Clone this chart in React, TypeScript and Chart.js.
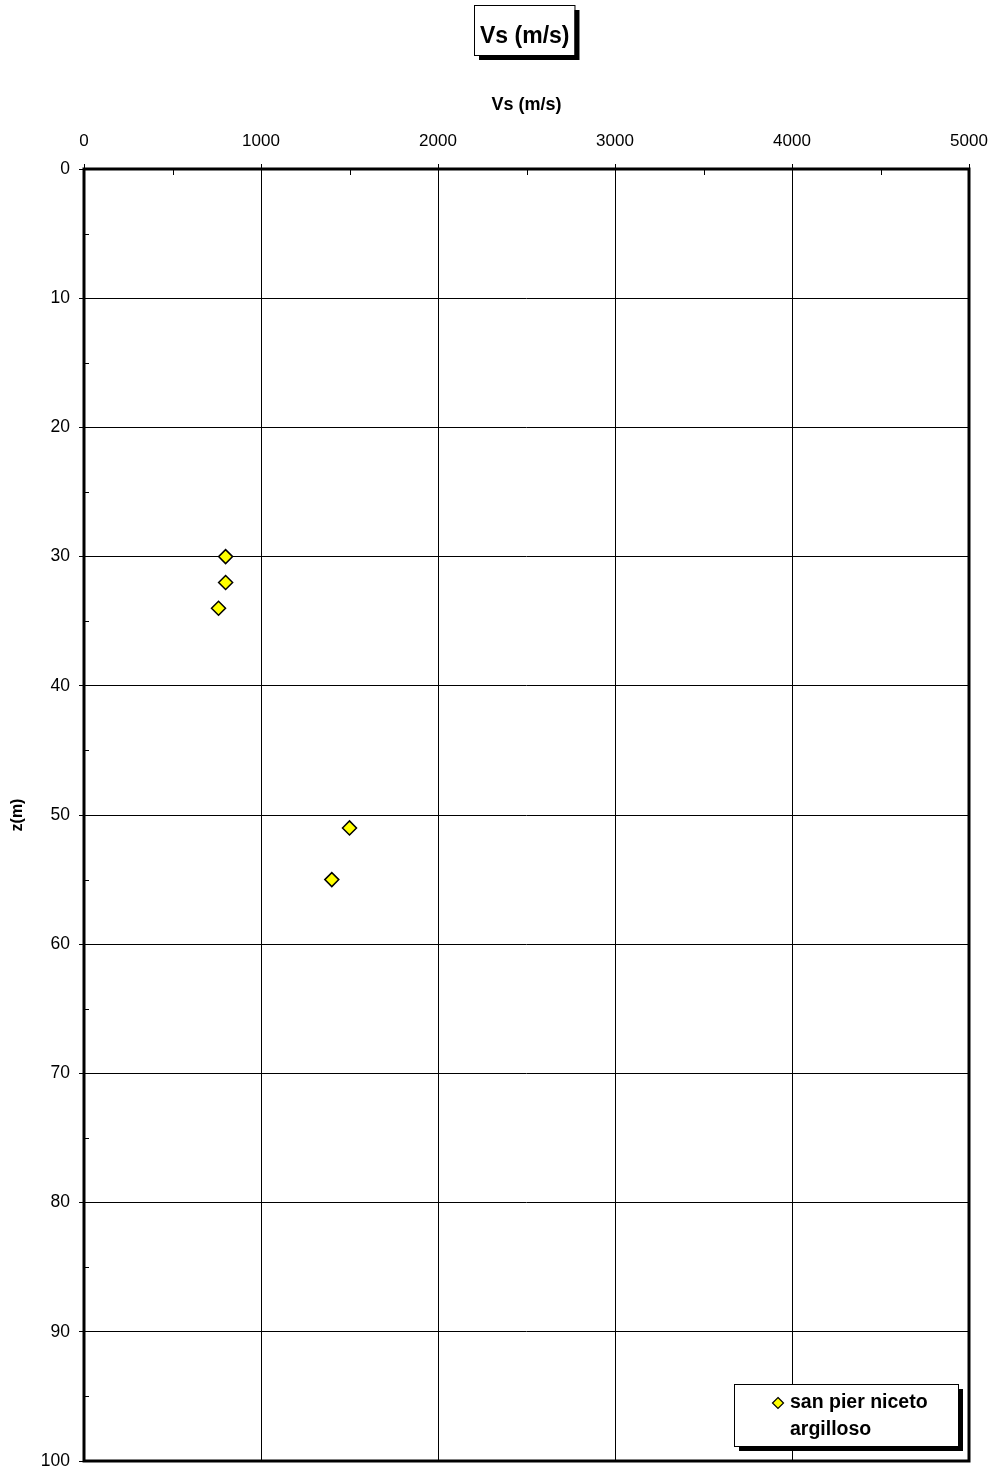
import React, { useEffect, useRef } from 'react';
import { Chart, registerables } from 'chart.js';

Chart.register(...registerables);

const chartTitle = 'Vs (m/s)';
const xAxisTitle = 'Vs (m/s)';
const yAxisTitle = 'z(m)';
const seriesName = 'san pier niceto argilloso';
const legendLines = ['san pier niceto', 'argilloso'];
const vsValues = [800, 800, 760, 1500, 1400];
const depthValues = [30, 32, 34, 51, 55];
const xMin = 0;
const xMax = 5000;
const xMajorStep = 1000;
const xMinorTicks = [500, 1500, 2500, 3500, 4500];
const yMin = 0;
const yMax = 100;
const yMajorStep = 10;
const yMinorTicks = [5, 15, 25, 35, 45, 55, 65, 75, 85, 95];

const FONT = '"Liberation Sans", Arial, sans-serif';

const decorPlugin = {
  id: 'decor',
  beforeDatasetsDraw(chart: any) {
    const { ctx, chartArea } = chart;
    const xs = chart.scales.x;
    const ys = chart.scales.y;
    ctx.save();
    ctx.strokeStyle = '#000';
    ctx.lineWidth = 1;
    ctx.beginPath();
    xMinorTicks.forEach((v) => {
      const px = Math.round(xs.getPixelForValue(v)) + 0.5;
      ctx.moveTo(px, chartArea.top);
      ctx.lineTo(px, chartArea.top + 6);
    });
    yMinorTicks.forEach((v) => {
      const py = Math.round(ys.getPixelForValue(v)) + 0.5;
      ctx.moveTo(chartArea.left, py);
      ctx.lineTo(chartArea.left + 5, py);
    });
    ctx.stroke();
    ctx.lineWidth = 3;
    ctx.strokeRect(chartArea.left, chartArea.top, chartArea.right - chartArea.left, chartArea.bottom - chartArea.top);
    ctx.restore();
  },
  afterDraw(chart: any) {
    const { ctx, chartArea } = chart;
    ctx.save();
    // Title box
    ctx.font = `bold 23px ${FONT}`;
    const tw = ctx.measureText(chartTitle).width;
    const bw = tw + 11;
    const bh = 50;
    const cx = (chartArea.left + chartArea.right) / 2 - 2;
    const bx = Math.round(cx - bw / 2);
    const by = 5;
    ctx.fillStyle = '#000';
    ctx.fillRect(bx + 5, by + 5, bw, bh);
    ctx.fillStyle = '#fff';
    ctx.fillRect(bx, by, bw, bh);
    ctx.strokeStyle = '#000';
    ctx.lineWidth = 1;
    ctx.strokeRect(bx + 0.5, by + 0.5, bw, bh);
    ctx.fillStyle = '#000';
    ctx.textAlign = 'center';
    ctx.textBaseline = 'alphabetic';
    ctx.fillText(chartTitle, bx + bw / 2 + 0.5, 43);

    // Legend box
    const lw = 224;
    const lh = 62;
    const lx = chartArea.right - 11 - lw;
    const ly = chartArea.bottom - 15 - lh;
    ctx.fillStyle = '#000';
    ctx.fillRect(lx + 5, ly + 5, lw, lh);
    ctx.fillStyle = '#fff';
    ctx.fillRect(lx, ly, lw, lh);
    ctx.strokeRect(lx + 0.5, ly + 0.5, lw, lh);
    const ds = chart.data.datasets[0];
    const mx = lx + 44;
    const my = ly + 19;
    ctx.beginPath();
    const r = 5.5;
    ctx.moveTo(mx, my - r);
    ctx.lineTo(mx + r, my);
    ctx.lineTo(mx, my + r);
    ctx.lineTo(mx - r, my);
    ctx.closePath();
    ctx.fillStyle = ds.backgroundColor;
    ctx.fill();
    ctx.strokeStyle = '#000';
    ctx.lineWidth = 1.2;
    ctx.stroke();
    ctx.fillStyle = '#000';
    ctx.font = `bold 19.5px ${FONT}`;
    ctx.textAlign = 'left';
    ctx.fillText(legendLines[0], lx + 56, ly + 24);
    ctx.fillText(legendLines[1], lx + 56, ly + 51);
    ctx.restore();
  },
};

export default function App() {
  const ref = useRef<HTMLCanvasElement | null>(null);
  useEffect(() => {
    if (!ref.current) return;
    const points = vsValues.map((v, i) => ({ x: v, y: depthValues[i] }));
    const chart = new Chart(ref.current, {
      type: 'scatter',
      data: {
        datasets: [
          {
            label: seriesName,
            data: points,
            pointStyle: 'rectRot',
            pointRadius: 7,
            pointHoverRadius: 7,
            backgroundColor: '#FFFF00',
            borderColor: '#000',
            borderWidth: 1.5,
            showLine: false,
          },
        ],
      },
      options: {
        animation: false,
        responsive: false,
        devicePixelRatio: 1,
        layout: { padding: { top: 0, left: 0, right: 21, bottom: 11 } },
        plugins: {
          legend: { display: false },
          title: { display: false },
          tooltip: { enabled: false },
        },
        scales: {
          x: {
            type: 'linear',
            position: 'top',
            min: xMin,
            max: xMax,
            ticks: {
              stepSize: xMajorStep,
              color: '#000',
              font: { family: FONT, size: 17 },
              padding: 12,
              maxRotation: 0,
              callback: (v: any) => String(v),
            },
            grid: { color: '#000', lineWidth: 1, tickLength: 5, tickColor: '#000' },
            border: { display: false },
            title: {
              display: true,
              text: xAxisTitle,
              color: '#000',
              font: { family: FONT, size: 18, weight: 'bold' },
              padding: { top: 94, bottom: 0 },
            },
            afterFit: (s: any) => {
              s.height = 169;
              s.paddingLeft = 0;
              s.paddingRight = 0;
            },
          },
          y: {
            type: 'linear',
            reverse: true,
            min: yMin,
            max: yMax,
            ticks: {
              stepSize: yMajorStep,
              color: '#000',
              font: { family: FONT, size: 17.5 },
              padding: 9,
              callback: (v: any) => String(v),
            },
            grid: { color: '#000', lineWidth: 1, tickLength: 5, tickColor: '#000' },
            border: { display: false },
            title: {
              display: true,
              text: yAxisTitle,
              color: '#000',
              font: { family: FONT, size: 16, weight: 'bold' },
              padding: { top: 8, bottom: 0 },
            },
            afterFit: (s: any) => {
              s.width = 84;
              s.paddingTop = 0;
              s.paddingBottom = 0;
            },
          },
        },
      },
      plugins: [decorPlugin],
    });
    return () => chart.destroy();
  }, []);
  return (
    <div style={{ position: 'absolute', left: 0, top: 0, width: 990, height: 1472, background: '#fff' }}>
      <canvas ref={ref} width={990} height={1472} style={{ display: 'block' }} />
    </div>
  );
}
